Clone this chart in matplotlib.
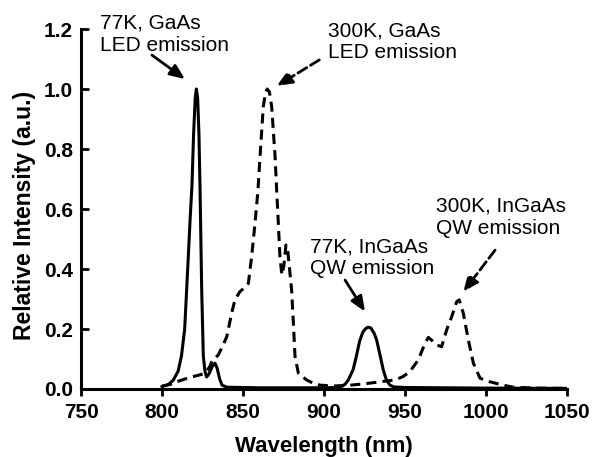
import matplotlib
matplotlib.use("Agg")
import matplotlib.pyplot as plt

plt.rcParams['font.family'] = ['Liberation Sans', 'DejaVu Sans']

# 77K spectrum (GaAs LED + InGaAs QW), solid line
wl_77k = [800, 804, 807, 810, 812, 814, 815.2, 816.3, 817.3, 818.5, 819.5, 820.5,
          821.2, 822, 822.8, 823.5, 824.5, 825.5, 826.5, 827.5, 829, 831, 832.7,
          834, 835.5, 837, 840, 860, 880, 900, 908, 911, 913, 915, 918, 920, 922,
          924, 926, 927.4, 929, 931, 932.5, 934.5, 936.6, 938.5, 940.7, 943, 950,
          1000, 1050]
int_77k = [0.008, 0.015, 0.03, 0.06, 0.11, 0.2, 0.33, 0.45, 0.56, 0.68, 0.85, 0.97,
           1.0, 0.97, 0.85, 0.66, 0.33, 0.11, 0.06, 0.04, 0.05, 0.075, 0.086,
           0.07, 0.035, 0.013, 0.006, 0.004, 0.004, 0.004, 0.005, 0.009, 0.016, 0.03,
           0.065, 0.11, 0.16, 0.19, 0.203, 0.206, 0.203, 0.185, 0.163, 0.115, 0.063,
           0.03, 0.013, 0.007, 0.005, 0.003, 0.002]

# 300K spectrum, dashed line
wl_300k = [800, 805, 809, 814, 819, 824, 827, 829.5, 831, 834.7, 838, 840, 843, 845,
           848, 851, 853.3, 855.3, 857.4, 859.2, 860.5, 862.5, 864, 865, 866.3,
           867.7, 869.8, 870.8, 871.8, 872.8, 874, 875.2, 876.5, 877.5, 878, 880,
           881.1, 882.1, 884.2, 889.3, 893, 897.5, 905, 915, 926, 934.6, 943.8,
           949, 953, 958.2, 962.3, 964.4, 967, 969.5, 972.6, 975.7, 978.8, 981.9,
           983.5, 986, 989.1, 992.2, 996.3, 1002.4, 1010.5, 1016.7, 1030, 1050]
int_300k = [0.01, 0.015, 0.024, 0.033, 0.041, 0.048, 0.055, 0.075, 0.095, 0.113,
            0.15, 0.175, 0.253, 0.297, 0.324, 0.338, 0.352, 0.44, 0.552, 0.66, 0.774,
            0.941, 0.99, 1.0, 0.99, 0.941, 0.774, 0.66, 0.552, 0.44, 0.38, 0.41, 0.48,
            0.47, 0.44, 0.33, 0.219, 0.108, 0.052, 0.03, 0.02, 0.013, 0.01, 0.012,
            0.018, 0.024, 0.03, 0.042, 0.058, 0.097, 0.152, 0.172, 0.16, 0.147, 0.141,
            0.197, 0.241, 0.291, 0.297, 0.252, 0.163, 0.086, 0.036, 0.024, 0.013,
            0.006, 0.003, 0.002]

x_ticks = [750, 800, 850, 900, 950, 1000, 1050]
y_ticks = [0.0, 0.2, 0.4, 0.6, 0.8, 1.0, 1.2]

fig = plt.figure(figsize=(5.93, 4.57), dpi=100)
ax = fig.add_axes([0.1366, 0.1488, 0.8196, 0.7877])

dash = (0, (3.3, 2.0))
ax.plot(wl_77k, int_77k, color='black', lw=2.2, solid_joinstyle='round')
ax.plot(wl_300k, int_300k, color='black', lw=2.2, linestyle=dash)

ax.set_xlim(750, 1050)
ax.set_ylim(0, 1.2)
ax.set_xticks(x_ticks)
ax.set_yticks(y_ticks)
ax.set_yticklabels(["%.1f" % v for v in y_ticks])

for s in ['top', 'right']:
    ax.spines[s].set_visible(False)
for s in ['left', 'bottom']:
    ax.spines[s].set_linewidth(2.2)

ax.tick_params(axis='x', direction='out', length=5, width=2, pad=5, labelsize=15)
ax.tick_params(axis='y', direction='in', length=5.5, width=2, pad=6, labelsize=15)
for lab in ax.get_xticklabels() + ax.get_yticklabels():
    lab.set_fontweight('bold')

ax.set_xlabel("Wavelength (nm)", fontsize=16, fontweight='bold', va='baseline')
ax.set_ylabel("Relative Intensity (a.u.)", fontsize=16.5, fontweight='bold')
ax.xaxis.set_label_coords(0.5, -0.175)
ax.yaxis.set_label_coords(-0.093, 0.483)

# labels and arrows
labels = [
    ("77K, GaAs\nLED emission", 761.7, 1.182, (793.8, 1.113), (814.2, 1.033), '-'),
    ("300K, GaAs\nLED emission", 902.5, 1.157, (897.1, 1.097), (870.8, 1.01), '--'),
    ("77K, InGaAs\nQW emission", 891.4, 0.438, (913, 0.363), (925.3, 0.258), '-'),
    ("300K, InGaAs\nQW emission", 969.1, 0.572, (1005.6, 0.463), (986, 0.324), '--'),
]
for txt, tx, ty, start, tip, ls in labels:
    ax.text(tx, ty, txt, ha='left', va='center', fontsize=15, linespacing=1.2,
            clip_on=False)
    ax.annotate("", xy=tip, xytext=start,
                arrowprops=dict(arrowstyle='-|>,head_length=0.6,head_width=0.25',
                                color='black', lw=2, linestyle=ls,
                                mutation_scale=15, shrinkA=0, shrinkB=0),
                annotation_clip=False)

fig.savefig("out.png", dpi=100)
